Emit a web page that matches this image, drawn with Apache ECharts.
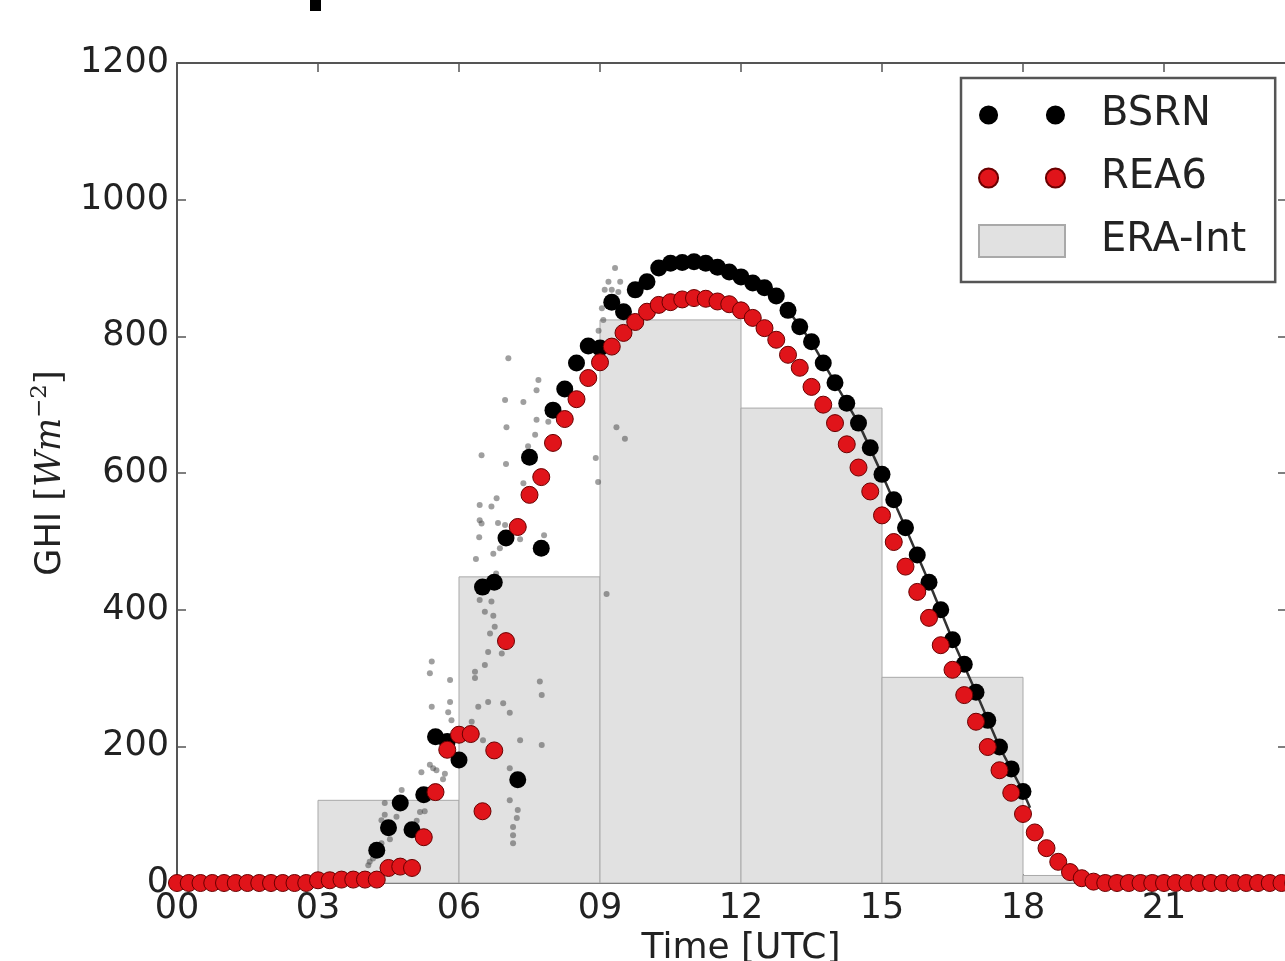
<!DOCTYPE html>
<html>
<head>
<meta charset="utf-8">
<title>GHI</title>
<script src="https://cdn.jsdelivr.net/npm/echarts@6/dist/echarts.min.js"></script>
<style>
html,body{margin:0;padding:0;background:#fff;}
#container{width:1285px;height:961px;}
</style>
</head>
<body>
<div id="container"></div>
<script>
// x axis tick labels (hours UTC)
var xTickLabels = ['00','03','06','09','12','15','18','21','24'];

// BSRN 15 min means
var bsrnHours = [4.25,4.5,4.75,5,5.25,5.5,5.75,6,
    6.5,6.75,7,7.25,7.5,7.75,8,8.25,8.5,8.75,
    9,9.25,9.5,9.75,10,10.25,10.5,10.75,11,11.25,
    11.5,11.75,12,12.25,12.5,12.75,13,13.25,13.5,13.75,
    14,14.25,14.5,14.75,15,15.25,15.5,15.75,16,16.25,
    16.5,16.75,17,17.25,17.5,17.75,18];
var bsrnGhi = [48,81,117,78,129,214,207,180,
    433,440,505,151,623,490,692,723,761,786,
    783,850,836,868,880,900,907,908,909,907,
    901,894,887,878,871,859,838,814,792,761,
    732,702,673,637,598,561,520,480,440,400,
    356,320,279,238,199,167,134];

// BSRN 1 min, clear afternoon (drawn as a thin line)
var minuteLineHours = [13,13.5,14,14.5,15,15.5,16,16.5,17,17.5,18,18.15];
var minuteLineGhi = [838,792,732,673,598,520,440,356,279,199,134,110];

// BSRN 1 min, cloudy morning (small grey dots)
var minuteHours = [4.07,4.10,4.17,4.35,4.53,4.35,4.42,4.42,4.67,4.78,5.10,5.17,5.27,5.20,5.38,5.45,5.52,5.66,5.70,
    5.38,5.42,5.42,5.77,5.81,5.81,5.84,6.27,6.34,6.34,6.41,6.51,6.55,6.62,6.62,6.91,6.94,7.08,7.30,7.72,7.76,7.76,
    7.08,7.08,7.25,7.23,7.15,7.15,7.15,6.36,6.44,6.69,6.55,6.73,6.76,6.66,6.44,6.44,6.48,6.43,6.48,6.69,6.73,6.80,
    6.79,6.83,6.87,6.98,7.00,7.01,6.98,7.05,7.30,7.37,7.37,7.47,7.62,7.65,7.65,7.69,7.81,7.90,8.91,8.96,9.14,9.35,
    9.53,8.97,9.04,9.07,9.10,9.18,9.25,9.32,9.39,9.43];
var minuteGhi = [26,31,36,58,64,92,100,117,97,136,91,104,105,162,173,168,165,152,160,
    307,324,258,250,265,297,238,236,300,309,258,209,319,265,338,336,263,249,209,295,275,202,
    168,121,107,95,82,70,58,474,414,412,397,391,375,365,553,531,526,506,626,551,482,563,
    453,527,490,524,613,667,707,768,503,585,704,639,656,678,721,736,509,675,622,587,423,667,
    650,808,841,824,868,880,868,900,865,880];

// REA6, every 15 min from 00 UTC
var reaGhi = [0,0,0,0,0,0,0,0,0,0,0,0,
    4,4,5,5,5,5,
    22,24,22,67,133,195,217,218,105,194,
    354,521,568,594,644,679,708,739,
    762,785,805,821,836,846,850,854,
    856,855,851,847,838,827,812,795,
    773,754,726,700,673,642,608,573,
    538,499,463,426,388,348,312,275,
    236,199,165,132,101,74,51,31,
    16,7,2,0,0,0,0,0,0,0,0,0,0,0,0,0,0,0,0,0,0];
var reaStep = 0.25;

// ERA-Interim 3 hourly means
var eraStart = [3,6,9,12,15,18];
var eraEnd = [6,9,12,15,18,21];
var eraGhi = [121,448,824,695,301,11];

var bsrnData = [];
for (var i = 0; i < bsrnHours.length; i++) bsrnData.push([bsrnHours[i], bsrnGhi[i]]);
var lineData = [];
for (var i = 0; i < minuteLineHours.length; i++) lineData.push([minuteLineHours[i], minuteLineGhi[i]]);
var minuteData = [];
for (var i = 0; i < minuteHours.length; i++) minuteData.push([minuteHours[i], minuteGhi[i]]);
var reaData = [];
for (var i = 0; i < reaGhi.length; i++) reaData.push([i * reaStep, reaGhi[i]]);
var eraData = [];
for (var i = 0; i < eraStart.length; i++) eraData.push([eraStart[i], eraEnd[i], eraGhi[i]]);

var twoDots = 'path://M0,10a10,10 0 1,0 20,0a10,10 0 1,0 -20,0ZM70,10a10,10 0 1,0 20,0a10,10 0 1,0 -20,0Z';
var axisColor = '#555';
var font = 'DejaVu Sans';

var myChart = echarts.init(document.getElementById('container'));
var option = {
    backgroundColor: '#fff',
    animation: false,
    grid: {left: 177, top: 63, right: -20, bottom: 78, outerBoundsMode: 'none', containLabel: false},
    legend: {
        orient: 'vertical',
        left: 961,
        top: 78,
        padding: [15, 29, 19, 17],
        itemGap: 19,
        itemWidth: 86,
        itemHeight: 32,
        symbolKeepAspect: true,
        backgroundColor: '#fff',
        borderColor: '#555',
        borderWidth: 2.5,
        textStyle: {fontSize: 40, fontFamily: font, color: '#222', lineHeight: 44, padding: [0, 0, 0, 31]},
        data: [
            {name: 'BSRN', icon: twoDots},
            {name: 'REA6', icon: twoDots},
            {name: 'ERA-Int', icon: 'rect'}
        ]
    },
    xAxis: [{
        type: 'value', min: 0, max: 24, interval: 3,
        name: 'Time [UTC]', nameLocation: 'middle', nameGap: 42,
        nameTextStyle: {fontSize: 36, fontFamily: font, color: '#222'},
        axisLine: {show: true, onZero: false, lineStyle: {color: axisColor, width: 2}},
        axisTick: {show: true, inside: true, length: 9, lineStyle: {color: axisColor, width: 1.5}},
        axisLabel: {fontSize: 35, fontFamily: font, color: '#222', margin: 8,
            formatter: function (v) { return xTickLabels[v / 3]; }},
        splitLine: {show: false}
    }, {
        type: 'value', min: 0, max: 24, interval: 3, position: 'top',
        axisLine: {show: true, onZero: false, lineStyle: {color: axisColor, width: 2}},
        axisTick: {show: true, inside: true, length: 9, lineStyle: {color: axisColor, width: 1.5}},
        axisLabel: {show: false},
        splitLine: {show: false}
    }],
    yAxis: [{
        type: 'value', min: 0, max: 1200, interval: 200,
        name: '{a|GHI }{b|[}{i|Wm}{s|\u22122}{b|]}',
        nameLocation: 'middle', nameRotate: 90, nameGap: 104,
        nameTextStyle: {
            fontSize: 35, fontFamily: font, color: '#222',
            rich: {
                a: {fontSize: 35, fontFamily: font, color: '#222', lineHeight: 44},
                b: {fontSize: 35, fontFamily: 'DejaVu Serif', color: '#222', lineHeight: 44},
                i: {fontSize: 35, fontFamily: 'DejaVu Serif', fontStyle: 'italic', color: '#222', lineHeight: 44},
                s: {fontSize: 23, fontFamily: 'DejaVu Serif', color: '#222', lineHeight: 24, verticalAlign: 'top'}
            }
        },
        axisLine: {show: true, onZero: false, lineStyle: {color: axisColor, width: 2}},
        axisTick: {show: true, inside: true, length: 9, lineStyle: {color: axisColor, width: 1.5}},
        axisLabel: {fontSize: 35, fontFamily: font, color: '#222', margin: 8,
            formatter: function (v) { return String(v); }},
        splitLine: {show: false}
    }, {
        type: 'value', min: 0, max: 1200, interval: 200, position: 'right',
        axisLine: {show: true, onZero: false, lineStyle: {color: axisColor, width: 2}},
        axisTick: {show: true, inside: true, length: 27, lineStyle: {color: axisColor, width: 1.5}},
        axisLabel: {show: false},
        splitLine: {show: false}
    }],
    series: [
        {
            name: 'ERA-Int',
            type: 'custom',
            z: 1,
            itemStyle: {color: '#e1e1e1', borderColor: '#a9a9a9', borderWidth: 1},
            encode: {x: [0, 1], y: 2},
            renderItem: function (params, api) {
                var p0 = api.coord([api.value(0), api.value(2)]);
                var p1 = api.coord([api.value(1), 0]);
                return {
                    type: 'rect',
                    shape: {x: p0[0], y: p0[1], width: p1[0] - p0[0], height: p1[1] - p0[1]},
                    style: api.style()
                };
            },
            data: eraData
        },
        {
            name: 'BSRN 1min',
            type: 'scatter',
            z: 2,
            symbolSize: 6,
            itemStyle: {color: 'rgba(70,70,70,0.65)'},
            data: minuteData
        },
        {
            name: 'BSRN 1min line',
            type: 'line',
            z: 3,
            showSymbol: false,
            lineStyle: {color: '#333', width: 2.5},
            data: lineData
        },
        {
            name: 'BSRN',
            type: 'scatter',
            z: 4,
            symbolSize: 17,
            itemStyle: {color: '#000', opacity: 1},
            data: bsrnData
        },
        {
            name: 'REA6',
            type: 'scatter',
            z: 5,
            symbolSize: 17,
            itemStyle: {color: '#e0141a', borderColor: '#6a0000', borderWidth: 1, opacity: 1},
            data: reaData
        }
    ],
    graphic: [{
        type: 'rect', left: 310, top: 0,
        shape: {width: 11, height: 11},
        style: {fill: '#000'}
    }]
};
myChart.setOption(option);
</script>
</body>
</html>
